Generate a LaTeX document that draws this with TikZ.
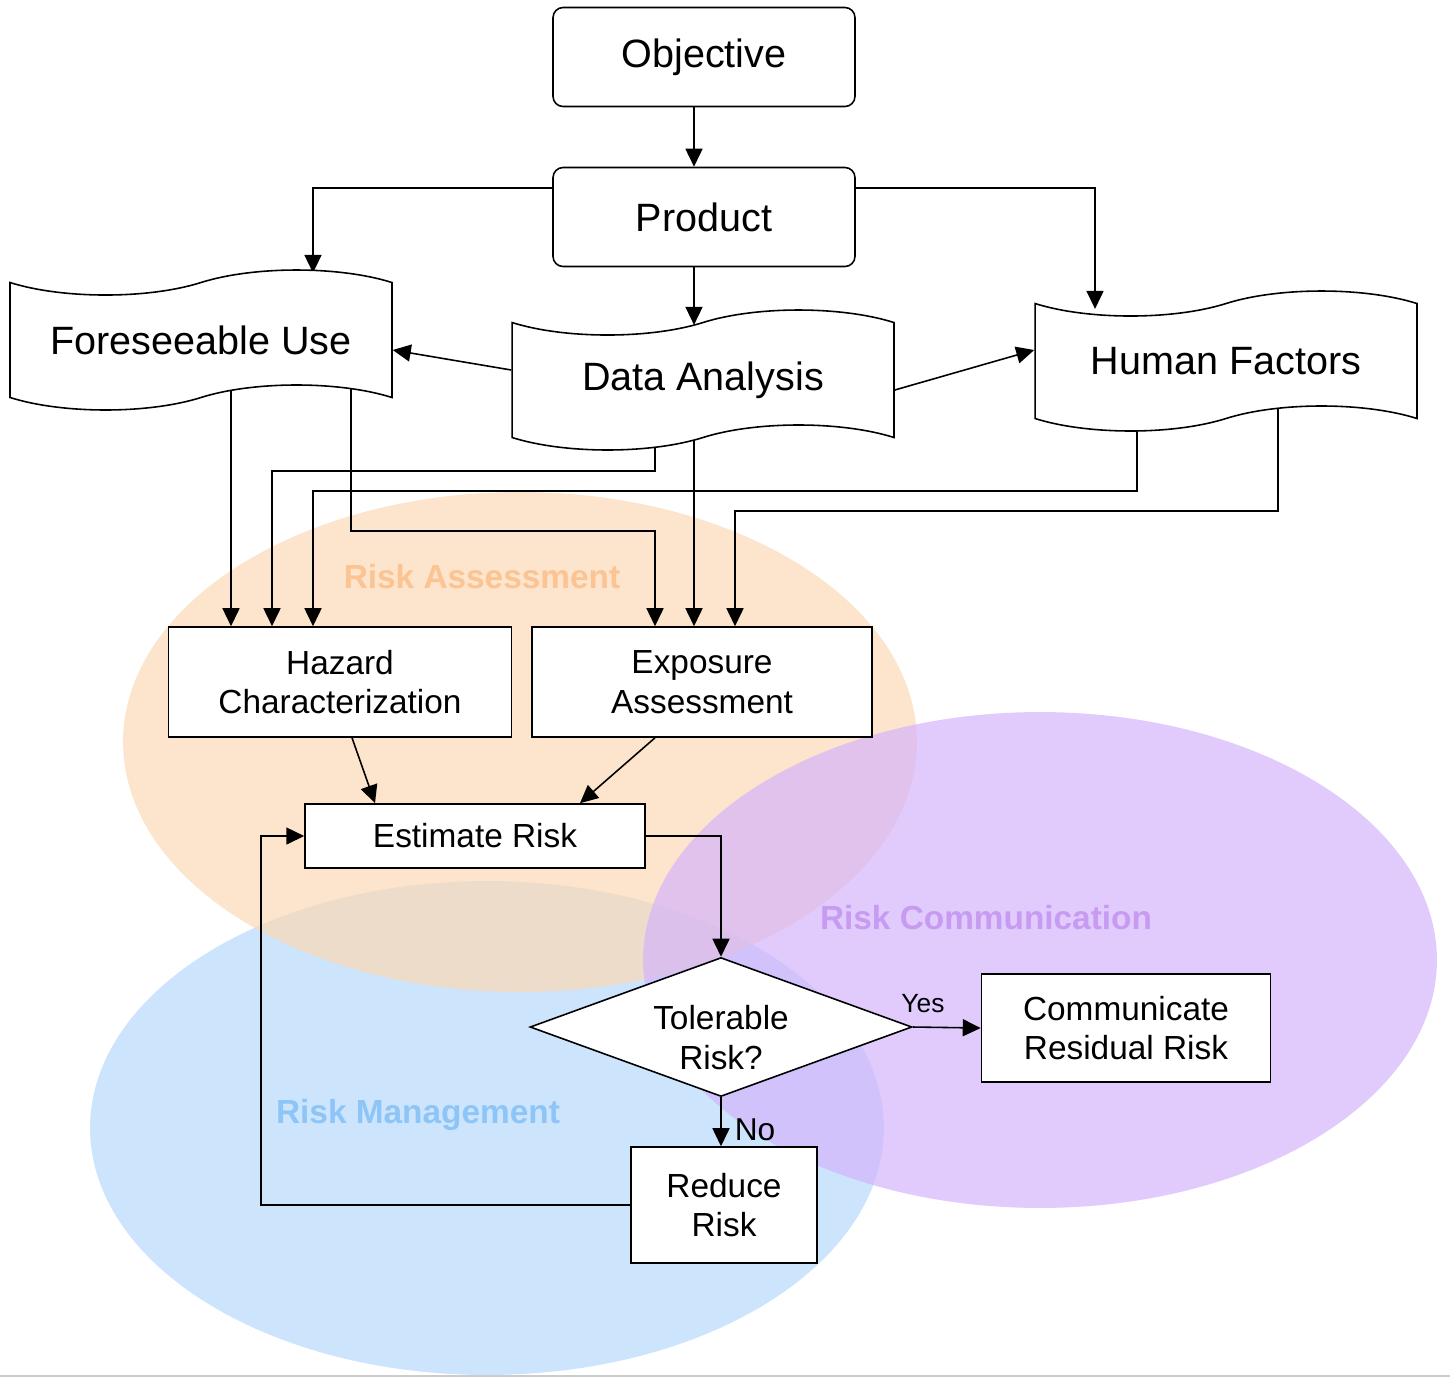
\documentclass[tikz,border=0pt]{standalone}
\usepackage{fontspec}
\setmainfont{Liberation Sans}
\usetikzlibrary{shapes.symbols,shapes.geometric,arrows.meta}

\definecolor{raorange}{RGB}{252,216,182}
\definecolor{rcpurple}{RGB}{212,181,251}
\definecolor{rmblue}{RGB}{182,216,251}
\definecolor{ratext}{RGB}{251,196,146}
\definecolor{rctext}{RGB}{199,155,242}
\definecolor{rmtext}{RGB}{142,197,247}

\pgfdeclarelayer{regions}
\pgfdeclarelayer{links}
\pgfsetlayers{regions,links,main}

\begin{document}
\begin{tikzpicture}[x=0.02cm,y=-0.02cm]
	\tikzstyle{myarrow}=[line width=0.9pt,>={Triangle[length=0.36cm,width=0.34cm]},->]
	\tikzstyle{rbox}=[draw,fill=white,rounded corners=0.2cm,line width=0.9pt,minimum width=6.04cm,minimum height=1.98cm,font=\fontsize{22.5}{27}\selectfont]
	\tikzstyle{tbox}=[draw,fill=white,tape,line width=0.9pt,minimum width=7.64cm,minimum height=2.8cm,tape bend height=0.5cm,font=\fontsize{22.5}{27}\selectfont]
	\tikzstyle{box}=[draw,fill=white,line width=0.9pt,align=center,inner sep=0pt,font=\fontsize{19}{22.7}\selectfont]
	\tikzstyle{region}=[fill opacity=0.7]
	\tikzstyle{rlabel}=[font=\bfseries\fontsize{19}{22.7}\selectfont]

	\useasboundingbox (0,0) rectangle (1450,1377);

	\foreach \x/\y/\n/\t in {704/57/obj/Objective,704/217/prod/Product} { \node[rbox] (\n) at (\x,\y) {\t};}
	\foreach \x/\y/\n/\t in {201/340/fu/Foreseeable Use,703/380/da/Data Analysis,1226/361/hf/Human Factors} { \node[tbox] (\n) at (\x,\y) {\t};}

	\node[box,minimum width=6.86cm,minimum height=2.2cm] (hc) at (340,682) {Hazard\\Characterization};
	\node[box,minimum width=6.8cm,minimum height=2.2cm] (ea) at (702,682) {Exposure\\Assessment};
	\node[box,minimum width=6.8cm,minimum height=1.28cm] (er) at (475,836) {Estimate Risk};
	\node[box,diamond,aspect=2.75,minimum width=7.64cm,minimum height=2.78cm] (tr) at (721,1027) {\rule{0pt}{0.92cm}Tolerable\\Risk?};
	\node[box,minimum width=5.78cm,minimum height=2.16cm] (crr) at (1126,1028) {Communicate\\Residual Risk};
	\node[box,minimum width=3.72cm,minimum height=2.32cm] (rr) at (724,1205) {Reduce\\Risk};

	% risk regions
	\begin{pgfonlayer}{regions}
		\fill[region,rmblue] (487,1128) ellipse [x radius=7.94cm,y radius=4.94cm];
		\fill[region,raorange] (520,742) ellipse [x radius=7.94cm,y radius=5cm];
		\fill[region,rcpurple] (1040,960) ellipse [x radius=7.94cm,y radius=4.96cm];
		\node[rlabel,ratext] (lra) at (482,577) {Risk Assessment};
		\node[rlabel,rctext] (lrc) at (986,918) {Risk Communication};
		\node[rlabel,rmtext] (lrm) at (418,1115) {Risk Management};
		\draw[black!20,line width=0.04cm] (0,1376) -- (1450,1376);
	\end{pgfonlayer}

	\begin{pgfonlayer}{links}
		\draw[myarrow] ([xshift=-0.2cm]obj.center) -- ([xshift=-0.2cm]prod.north);
		\draw[myarrow] ([yshift=0.58cm]prod.center) -| ([xshift=2.24cm,yshift=0.18cm]fu.north);
		\draw[myarrow] ([yshift=0.58cm]prod.center) -| ([xshift=-2.62cm,yshift=-0.12cm]hf.north);
		\draw[myarrow] ([xshift=-0.2cm]prod.center) -- ([xshift=-0.18cm,yshift=-0.06cm]da.north);
		\draw[myarrow] ([yshift=0.2cm]da.west) -- ([yshift=-0.2cm]fu.east);
		\draw[myarrow] ([yshift=-0.2cm]da.east) -- ([yshift=0.22cm]hf.west);

		\draw[myarrow] ([xshift=0.6cm]fu.center) -- ([xshift=-2.18cm]hc.north);
		\draw[myarrow] ([xshift=-0.96cm]da.center) |- ([xshift=-1.36cm]hc.north |- 0,471) -- ([xshift=-1.36cm]hc.north);
		\draw[myarrow] ([xshift=-1.78cm]hf.center) |- ([xshift=-0.54cm]hc.north |- 0,491) -- ([xshift=-0.54cm]hc.north);
		\draw[myarrow] ([xshift=3cm]fu.center) |- ([xshift=-0.94cm]ea.north |- 0,531) -- ([xshift=-0.94cm]ea.north);
		\draw[myarrow] ([xshift=-0.18cm]da.center) -- ([xshift=-0.16cm]ea.north);
		\draw[myarrow] ([xshift=1.04cm]hf.center) |- ([xshift=0.66cm]ea.north |- 0,511) -- ([xshift=0.66cm]ea.north);

		\draw[myarrow] ([xshift=0.24cm]hc.south) -- ([xshift=-2cm]er.north);
		\draw[myarrow] ([xshift=-0.94cm]ea.south) -- ([xshift=2.1cm]er.north);
		\draw[myarrow] (er.east) -| (tr.north);
		\draw[myarrow] (tr.east) -- (crr.west) node[pos=0.15,above=0.28cm,inner sep=0pt,font=\fontsize{15}{18}\selectfont] (yes) {Yes};
		\draw[myarrow] (tr.south) -- (tr.south |- rr.north) node[pos=0.66,right=0.26cm,inner sep=0pt,font=\fontsize{18}{21}\selectfont] (no) {No};
		\draw[myarrow] (rr.west) -| ([xshift=-0.86cm]er.west) -- (er.west);
	\end{pgfonlayer}
\end{tikzpicture}
\end{document}
